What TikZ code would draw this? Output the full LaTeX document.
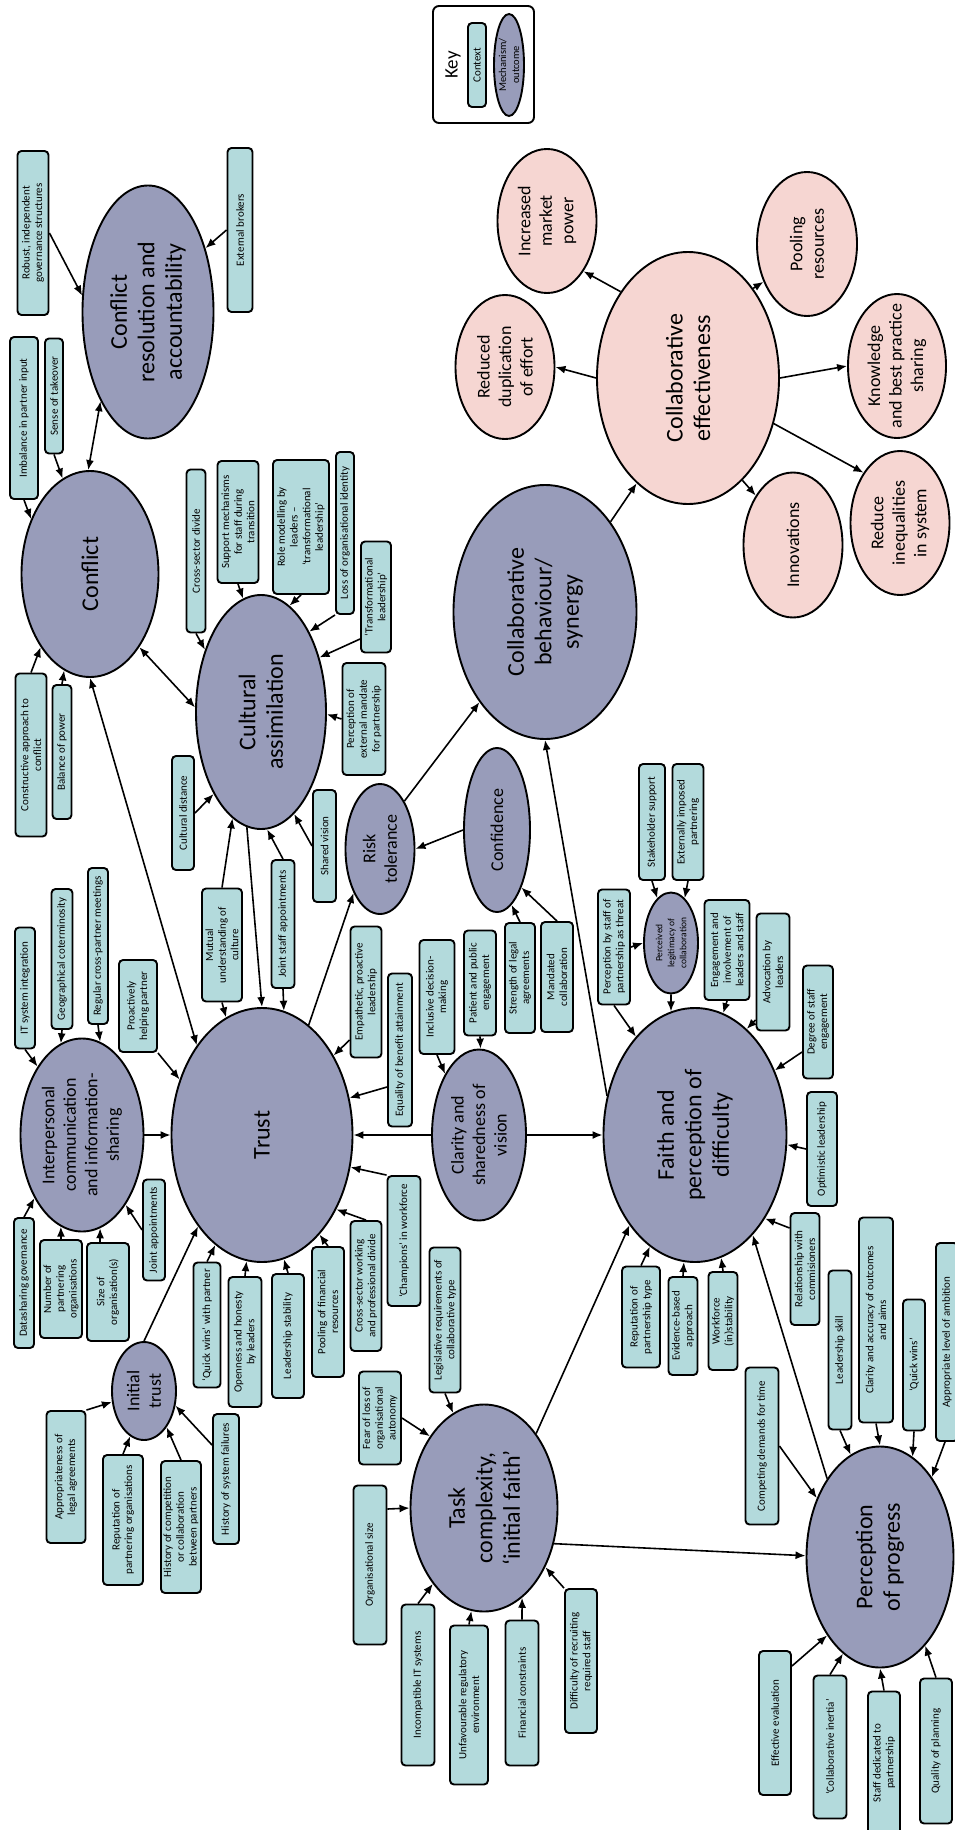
\documentclass[tikz,border=0pt]{standalone}
\usepackage{fontspec}
\setmainfont{Carlito}
\usetikzlibrary{shapes.geometric,arrows.meta}
\definecolor{ctxc}{RGB}{179,218,220}
\definecolor{mechc}{RGB}{152,156,186}
\definecolor{outcc}{RGB}{246,214,210}
\begin{document}
\begin{tikzpicture}[x=1pt,y=1pt,
  sz/.style 2 args={minimum width=#1pt,minimum height=#2pt},
  ctx/.style={rectangle,draw,line width=1.9pt,rounded corners=4pt,fill=ctxc,rotate=90,align=center,inner sep=1pt,font=\fontsize{11}{12.7}\selectfont},
  mech/.style={ellipse,draw,line width=1.9pt,fill=mechc,rotate=90,align=center,inner sep=0pt},
  outc/.style={ellipse,draw,line width=1.9pt,fill=outcc,rotate=90,align=center,inner sep=0pt},
  big/.style={font=\fontsize{24}{27.5}\selectfont},
  med/.style={font=\fontsize{18}{21.5}\selectfont},
  arr/.style={-{Latex[length=10pt,width=8pt]},line width=1.6pt},
  darr/.style={{Latex[length=10pt,width=8pt]}-{Latex[length=10pt,width=8pt]},line width=1.6pt}]
\useasboundingbox (0,0) rectangle (955,-1830);

% ---------- key ----------
\node[draw,line width=1.9pt,rounded corners=6pt,fill=white,minimum width=101pt,minimum height=117pt] (keybox) at (483.5,-64.5) {};
\node[rotate=90,font=\fontsize{19}{22}\selectfont] (keylab) at (453,-65) {Key};
\node[ctx,sz={84}{18},font=\fontsize{11}{12}\selectfont] (keyctx) at (477,-65) {Context};
\node[mech,sz={102}{30},font=\fontsize{10.5}{13}\selectfont,inner xsep=-6pt] (keymech) at (509,-65) {Mechanism/\\outcome};

% ---------- outcomes ----------
\node[outc,big,sz={252}{182}] (ce) at (688,-378) {Collaborative\\effectiveness};
\node[outc,med,sz={144}{99}] (imp) at (547,-221) {Increased\\market\\power};
\node[outc,med,sz={144}{99}] (rdup) at (505,-367) {Reduced\\duplication\\of effort};
\node[outc,med,sz={144}{100}] (pool) at (807,-244) {Pooling\\resources};
\node[outc,med,sz={144}{98},inner xsep=-15pt] (know) at (897,-366) {Knowledge\\and best practice\\sharing};
\node[outc,med,sz={145}{99}] (innov) at (793,-545) {Innovations};
\node[outc,med,sz={144}{99}] (redi) at (900,-523) {Reduce\\inequalities\\in system};

% ---------- mechanisms ----------
\node[mech,big,sz={253}{131}] (cra) at (148,-312) {Conflict\\resolution and\\accountability};
\node[mech,big,sz={206}{137}] (conf) at (90,-574) {Conflict};
\node[mech,big,sz={234}{130}] (cult) at (261,-712) {Cultural\\assimilation};
\node[mech,big,sz={254}{181}] (trust) at (262,-1135) {Trust};
\node[mech,med,sz={193}{123},inner xsep=-6pt] (ic) at (82,-1135) {Interpersonal\\communication\\and information-\\sharing};
\node[mech,med,sz={98}{64}] (itr) at (144,-1391) {Initial\\trust};
\node[mech,med,sz={130}{69}] (risk) at (380,-849) {Risk\\tolerance};
\node[mech,med,sz={164}{66}] (cnf) at (497,-830) {Confidence};
\node[mech,big,sz={254}{183}] (cb) at (545,-612) {Collaborative\\behaviour/\\synergy};
\node[mech,med,sz={171}{94}] (clar) at (479,-1135) {Clarity and\\sharedness of\\vision};
\node[mech,big,sz={254}{183}] (faith) at (695,-1135) {Faith and\\perception of\\difficulty};
\node[mech,sz={101}{54},font=\fontsize{9.5}{12}\selectfont,inner sep=-6pt] (plc) at (671,-943) {Perceived\\legitimacy of\\collaboration};
\node[mech,big,sz={207}{147}] (task) at (484,-1508) {Task\\complexity,\\‘initial faith’};
\node[mech,big,sz={221}{147}] (pop) at (880,-1557) {Perception\\of progress};

% ---------- contexts ----------
\node[ctx,sz={164}{31}] (robust) at (33,-233) {Robust, independent\\governance structures};
\node[ctx,sz={164}{25}] (extb) at (240,-230) {External brokers};
\node[ctx,sz={162}{28}] (imb) at (24,-418) {Imbalance in partner input};
\node[ctx,sz={115}{18}] (sot) at (54,-396) {Sense of takeover};
\node[ctx,sz={163}{31}] (cac) at (31,-755) {Constructive approach to\\conflict};
\node[ctx,sz={134}{19}] (bop) at (62,-752) {Balance of power};
\node[ctx,sz={163}{19}] (csd) at (196,-551) {Cross-sector divide};
\node[ctx,sz={122}{41}] (smech) at (238,-522) {Support mechanisms\\for staff during\\transition};
\node[ctx,sz={134}{56}] (rmod) at (301,-527) {Role modelling by\\leaders –\\‘transformational\\leadership’};
\node[ctx,sz={162}{18}] (loi) at (345,-533) {Loss of organisational identity};
\node[ctx,sz={111}{30}] (tlead) at (376,-597) {‘Transformational\\leadership’};
\node[ctx,sz={112}{43}] (pem) at (364,-719) {Perception of\\external mandate\\for partnership};
\node[ctx,sz={114}{22}] (cdist) at (183,-813) {Cultural distance};
\node[ctx,sz={112}{23}] (svis) at (324.5,-846) {Shared vision};
\node[ctx,sz={128}{23}] (jsa) at (283,-924) {Joint staff appointments};
\node[ctx,sz={113}{40}] (mutu) at (222,-945) {Mutual\\understanding of\\culture};
\node[ctx,sz={121}{20}] (itsi) at (25,-988) {IT system integration};
\node[ctx,sz={140}{21}] (geo) at (62,-959) {Geographical coterminosity};
\node[ctx,sz={156}{20}] (regm) at (98,-946) {Regular cross-partner meetings};
\node[ctx,sz={92}{38}] (proh) at (138,-1006) {Proactively\\helping partner};
\node[ctx,sz={130}{20}] (dsg) at (24,-1283) {Datasharing governance};
\node[ctx,sz={98}{42}] (npo) at (61,-1289) {Number of\\partnering\\organisations};
\node[ctx,sz={98}{42}] (soo) at (108,-1292) {Size of\\organisation(s)};
\node[ctx,sz={101}{22}] (japp) at (154,-1230) {Joint appointments};
\node[ctx,sz={132}{39}] (apl) at (66,-1477) {Appropriateness of\\legal agreements};
\node[ctx,sz={130}{40}] (rpo) at (123,-1520) {Reputation of\\partnering organisations};
\node[ctx,sz={132}{40}] (hcc) at (181,-1527) {History of competition\\or collaboration\\between partners};
\node[ctx,sz={130}{26}] (hsf) at (226,-1479) {History of system failures};
\node[ctx,sz={125}{27}] (qwp) at (207,-1325) {‘Quick wins’ with partner};
\node[ctx,sz={130}{33}] (ohl) at (245,-1342) {Openness and honesty\\by leaders};
\node[ctx,sz={124}{32}] (lstab) at (288,-1336) {Leadership stability};
\node[ctx,sz={130}{32}] (pfr) at (328,-1312) {Pooling of financial\\resources};
\node[ctx,sz={130}{31}] (csw) at (366,-1286) {Cross-sector working\\and professional divide};
\node[ctx,sz={130}{33}] (champ) at (404,-1241) {‘Champions’ in workforce};
\node[ctx,sz={145}{31}] (legr) at (445,-1320) {Legislative requirements of\\collaborative type};
\node[ctx,sz={131}{31}] (empl) at (366,-992) {Empathetic, proactive\\leadership};
\node[ctx,sz={153}{24}] (eqb) at (400,-1050) {Equality of benefit attainment};
\node[ctx,sz={114}{35}] (incd) at (437,-997) {Inclusive decision-\\making};
\node[ctx,sz={105}{32}] (ppe) at (480,-983) {Patient and public\\engagement};
\node[ctx,sz={110}{30}] (sla) at (520,-978) {Strength of legal\\agreements};
\node[ctx,sz={110}{32}] (mcol) at (557,-977) {Mandated\\collaboration};
\node[ctx,sz={115}{32}] (pst) at (614,-947) {Perception by staff of\\partnership as threat};
\node[ctx,sz={116}{26}] (stk) at (652,-822) {Stakeholder support};
\node[ctx,sz={116}{31}] (eip) at (688,-822) {Externally imposed\\partnering};
\node[ctx,sz={100}{45}] (eng) at (727,-950) {Engagement and\\involvement of\\leaders and staff};
\node[ctx,sz={117}{33}] (advl) at (773,-972) {Advocation by\\leaders};
\node[ctx,sz={113}{30}] (dse) at (818,-1022) {Degree of staff\\engagement};
\node[ctx,sz={114}{30}] (optl) at (822,-1149) {Optimistic leadership};
\node[ctx,sz={112}{29}] (relc) at (805,-1269) {Relationship with\\commisioners};
\node[ctx,sz={101}{38}] (rpt) at (641,-1317) {Reputation of\\partnership type};
\node[ctx,sz={98}{29}] (ebap) at (683,-1326) {Evidence-based\\approach};
\node[ctx,sz={98}{29}] (wfs) at (723,-1321) {Workforce\\(in)stability};
\node[ctx,sz={159}{23}] (lsk) at (840,-1350) {Leadership skill};
\node[ctx,sz={205}{34}] (caoa) at (876,-1320) {Clarity and accuracy of outcomes\\and aims};
\node[ctx,sz={131}{22}] (qwin) at (914,-1365) {‘Quick wins’};
\node[ctx,sz={198}{22}] (alam) at (947,-1342) {Appropriate level of ambition};
\node[ctx,sz={157}{33}] (cdt) at (762,-1446) {Competing demands for time};
\node[ctx,sz={144}{32}] (eev) at (775,-1723) {Effective evaluation};
\node[ctx,sz={143}{33}] (cin) at (830,-1747) {‘Collaborative inertia’};
\node[ctx,sz={143}{32}] (sdp) at (884,-1763) {Staff dedicated to\\partnership};
\node[ctx,sz={145}{32}] (qop) at (936,-1751) {Quality of planning};
\node[ctx,sz={93}{42}] (flo) at (380,-1418) {Fear of loss of\\organisational\\autonomy};
\node[ctx,sz={159}{33}] (osz) at (370,-1565) {Organisational size};
\node[ctx,sz={161}{33}] (iits) at (418,-1685) {Incompatible IT systems};
\node[ctx,sz={159}{38}] (ure) at (469,-1705) {Unfavourable regulatory\\environment};
\node[ctx,sz={145}{33}] (fcon) at (522,-1693) {Financial constraints};
\node[ctx,sz={144}{32}] (drs) at (581,-1661) {Difficulty of recruiting\\required staff};

% ---------- connectors ----------
\draw[arr] (robust.south) -- (cra.76);
\draw[arr] (extb.north) -- (cra.318);
\draw[arr] (imb.west) -- (conf.47);
\draw[arr] (sot.west) -- (conf.16);
\draw[darr] (conf.1) -- (cra.152);
\draw[arr] (cac.east) -- (conf.146);
\draw[arr] (bop.east) -- (conf.165);
\draw[arr] (csd.west) -- (cult.42);
\draw[arr] (smech.west) -- (cult.9);
\draw[arr] (rmod.west) -- (cult.345);
\draw[arr] (loi.north west) -- (cult.329);
\draw[arr] ([yshift=-42pt]tlead.north) -- (cult.313);
\draw[arr] (pem.north) -- (cult.268);
\draw[darr] (conf.214) -- (cult.86);
\draw[arr] (cdist.south) -- (cult.150);
\draw[arr] (svis.north) -- (cult.198);
\draw[arr] (jsa.east) -- (cult.183);
\draw[arr] (jsa.west) -- (trust.350);
\draw[arr] (mutu.east) -- (cult.165);
\draw[arr] (mutu.west) -- (trust.17);
\draw[arr] (cult.173) -- (trust.east);
\draw[darr] (conf.west) -- (trust.36);
\draw[arr] (itsi.west) -- (ic.33);
\draw[arr] (geo.west) -- (ic.13);
\draw[arr] (regm.west) -- (ic.349);
\draw[arr] (proh.south west) -- (trust.56);
\draw[arr] (ic) -- (trust);
\draw[arr] (dsg.east) -- (ic.143);
\draw[arr] (npo.east) -- (ic.167);
\draw[arr] ([xshift=-8pt]soo.east) -- (ic.191);
\draw[arr] (japp.north) -- (ic.212);
\draw[arr] (itr.east) -- (trust.145);
\draw[arr] (apl.south east) -- (itr.109);
\draw[arr] (rpo.east) -- (itr.163);
\draw[arr] (hcc.east) -- (itr.212);
\draw[arr] ([yshift=34pt]hsf.north) -- (itr.245);
\draw[arr] (qwp.east) -- (trust.157);
\draw[arr] (ohl.east) -- (trust.173);
\draw[arr] (lstab.east) -- (trust.190);
\draw[arr] (pfr.east) -- (trust.210);
\draw[arr] (csw.east) -- (trust.225);
\draw[arr] (champ.north east) -- (trust.250);
\draw[arr] (legr.west) -- (task.18);
\draw[arr] ([yshift=-48pt]empl.north) -- (trust.318);
\draw[arr] ([yshift=-37pt]eqb.north) -- (trust.293);
\draw[arr] (incd.west) -- (clar.29);
\draw[arr] (ppe.west) -- (clar.359);
\draw[arr] (clar) -- (trust);
\draw[arr] (clar) -- (faith);
\draw[arr] (sla.east) -- (cnf.191);
\draw[arr] (mcol.east) -- (cnf.203);
\draw[arr] (trust.337) -- (risk.149);
\draw[arr] (cnf.north) -- (risk.south);
\draw[arr] (risk.333) -- (cb.144);
\draw[arr] (cb.324) -- (ce.154);
\draw[arr] (faith.66) -- (cb.west);
\draw[arr] (stk.west) -- (plc.17);
\draw[arr] (eip.west) -- (plc.343);
\draw[arr] (pst.south) -- (plc.north);
\draw[arr] (pst.west) -- (faith.31);
\draw[arr] (plc.west) -- (faith.11);
\draw[arr] (eng.west) -- (faith.347);
\draw[arr] ([yshift=-48pt]advl.north) -- (faith.334);
\draw[arr] ([yshift=-30pt]dse.north) -- (faith.309);
\draw[arr] (optl.north) -- (faith.264);
\draw[arr] ([yshift=41pt]relc.north) -- (faith.220);
\draw[arr] (rpt.east) -- (faith.158);
\draw[arr] (ebap.east) -- (faith.175);
\draw[arr] (wfs.east) -- (faith.192);
\draw[arr] (pop.34) -- (faith.210);
\draw[arr] (task.325) -- (faith.144);
\draw[arr] (task.243) -- (pop.89);
\draw[arr] (lsk.west) -- (pop.16);
\draw[arr] (caoa.west) -- (pop.east);
\draw[arr] (qwin.west) -- (pop.342);
\draw[arr] ([xshift=-2pt]alam.west) -- (pop.327);
\draw[arr] (cdt.south) -- (pop.47);
\draw[arr] ([yshift=57pt]eev.south) -- (pop.146);
\draw[arr] (cin.east) -- (pop.159);
\draw[arr] (sdp.east) -- (pop.west);
\draw[arr] (qop.east) -- (pop.207);
\draw[arr] (flo.south) -- (task.37);
\draw[arr] ([yshift=56pt]osz.south) -- (task.north);
\draw[arr] (iits.east) -- (task.146);
\draw[arr] (ure.east) -- (task.173);
\draw[arr] (fcon.east) -- (task.203);
\draw[arr] (drs.north east) -- (task.226);
\draw[arr] (ce.38) -- (imp.216);
\draw[arr] (ce.north) -- (rdup.south);
\draw[arr] (ce.324) -- (pool.131);
\draw[arr] (ce.south) -- (know.north);
\draw[arr] (ce.208) -- (innov.37);
\draw[arr] (ce.242) -- (redi.36);
\end{tikzpicture}
\end{document}
